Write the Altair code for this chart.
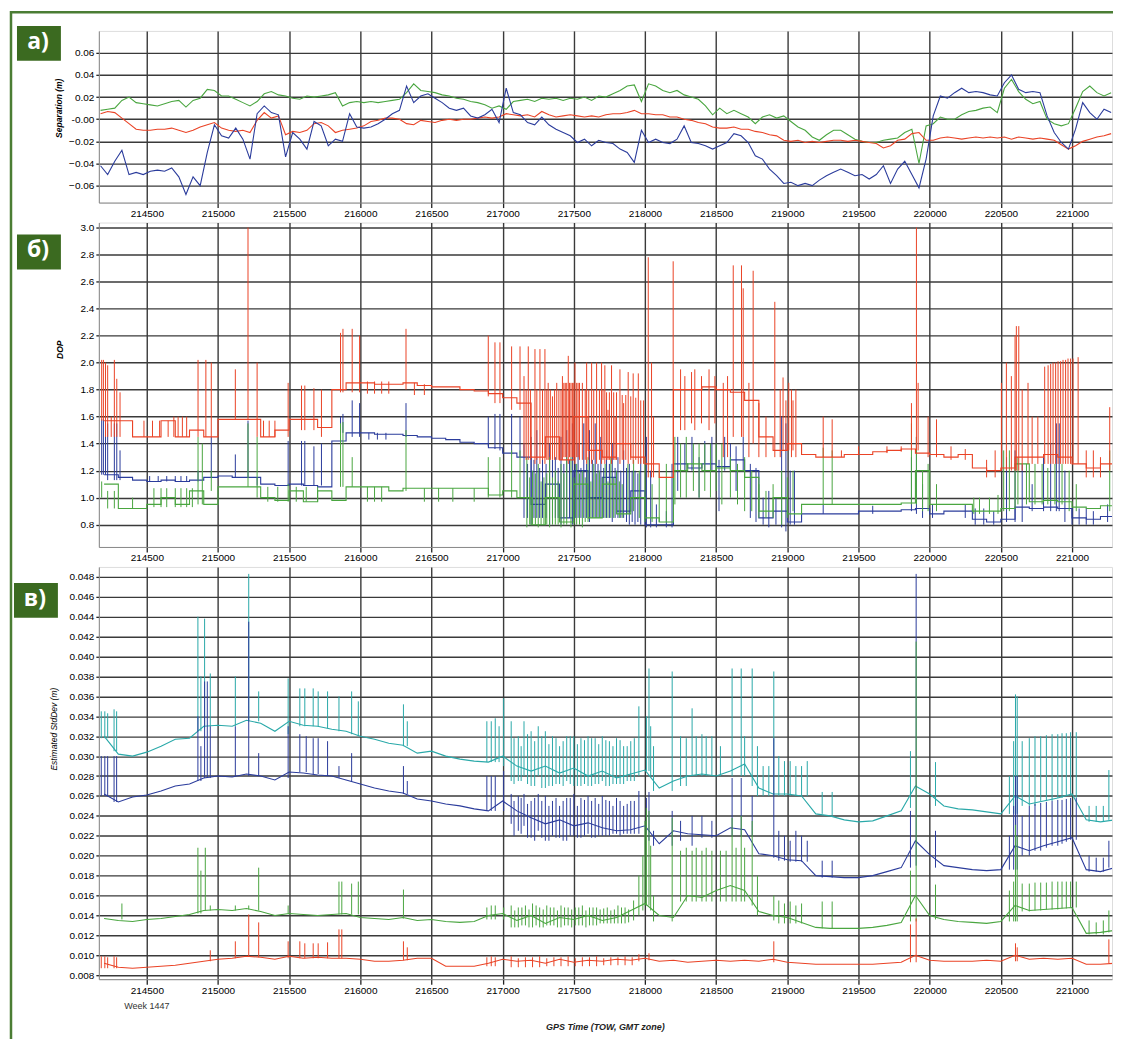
import altair as alt
import pandas as pd

# ---------------- common ----------------
X_DOMAIN = [214163, 221281]
X_TICKS = [214500, 215000, 215500, 216000, 216500, 217000, 217500,
           218000, 218500, 219000, 219500, 220000, 220500, 221000]

# ---------------- panel a: separation (m), 50 s sampling from 214175 ----------------
SEP_T0, SEP_DT = 214175, 50
SEP_BLUE = [
    -0.042, -0.050, -0.038, -0.028, -0.050, -0.048, -0.050, -0.047, -0.046, -0.047,
    -0.044, -0.052, -0.068, -0.052, -0.060, -0.030, -0.005, -0.015, -0.017, -0.008,
    -0.018, -0.036, 0.005, 0.012, 0.006, 0.004, -0.034, -0.012, -0.018, -0.027,
    -0.002, -0.006, -0.024, -0.018, -0.020, 0.005, -0.007, -0.008, -0.007, -0.004,
    0.000, 0.005, 0.008, 0.030, 0.015, 0.021, 0.023, 0.019, 0.015, 0.010,
    0.008, 0.010, 0.003, 0.001, 0.004, 0.009, -0.003, 0.028, 0.006, 0.004,
    -0.003, -0.005, 0.002, -0.005, -0.009, -0.012, -0.015, -0.021, -0.018, -0.024,
    -0.019, -0.021, -0.022, -0.027, -0.030, -0.039, -0.010, -0.021, -0.018, -0.021,
    -0.022, -0.018, -0.006, -0.021, -0.022, -0.024, -0.027, -0.024, -0.021, -0.013,
    -0.015, -0.021, -0.033, -0.036, -0.045, -0.051, -0.058, -0.057, -0.060, -0.058,
    -0.060, -0.055, -0.051, -0.048, -0.045, -0.048, -0.051, -0.050, -0.054, -0.050,
    -0.042, -0.058, -0.045, -0.038, -0.050, -0.062, -0.036, 0.003, 0.021, 0.019,
    0.024, 0.028, 0.024, 0.025, 0.024, 0.022, 0.021, 0.033, 0.040, 0.027,
    0.024, 0.025, 0.024, 0.003, -0.012, -0.021, -0.027, -0.009, 0.015, 0.006,
    0.000, 0.009, 0.006]
SEP_GREEN = [
    0.008, 0.009, 0.010, 0.017, 0.020, 0.015, 0.014, 0.013, 0.012, 0.014,
    0.016, 0.017, 0.011, 0.017, 0.019, 0.027, 0.026, 0.021, 0.021, 0.018,
    0.015, 0.012, 0.016, 0.023, 0.025, 0.022, 0.021, 0.019, 0.018, 0.021,
    0.020, 0.021, 0.022, 0.024, 0.012, 0.015, 0.016, 0.015, 0.016, 0.015,
    0.016, 0.017, 0.018, 0.024, 0.032, 0.026, 0.025, 0.024, 0.022, 0.021,
    0.019, 0.018, 0.016, 0.015, 0.013, 0.010, 0.012, 0.009, 0.016, 0.017,
    0.018, 0.016, 0.019, 0.018, 0.019, 0.017, 0.019, 0.018, 0.020, 0.017,
    0.021, 0.020, 0.023, 0.026, 0.030, 0.031, 0.016, 0.032, 0.030, 0.026,
    0.024, 0.026, 0.022, 0.020, 0.018, 0.012, 0.004, 0.010, 0.005, 0.008,
    0.005, 0.002, -0.004, 0.002, 0.004, 0.001, 0.003, -0.002, -0.007, -0.010,
    -0.016, -0.019, -0.014, -0.010, -0.010, -0.014, -0.018, -0.020, -0.021, -0.021,
    -0.019, -0.018, -0.017, -0.012, -0.009, -0.040, -0.006, -0.004, 0.002, 0.000,
    0.000, 0.004, 0.007, 0.008, 0.010, 0.011, 0.006, 0.028, 0.036, 0.025,
    0.018, 0.014, 0.016, 0.000, -0.004, -0.006, -0.004, 0.010, 0.025, 0.030,
    0.024, 0.021, 0.024]
SEP_RED = [
    0.005, 0.007, 0.006, 0.001, -0.004, -0.009, -0.010, -0.010, -0.009, -0.009,
    -0.008, -0.010, -0.012, -0.010, -0.007, -0.005, -0.003, -0.008, -0.010, -0.011,
    -0.010, -0.012, -0.001, 0.006, 0.001, 0.003, -0.014, -0.011, -0.012, -0.010,
    -0.004, -0.003, -0.006, -0.012, -0.010, -0.009, -0.008, -0.006, -0.002, -0.001,
    0.001, 0.001, 0.000, -0.004, -0.005, -0.001, -0.002, -0.003, -0.001, 0.000,
    -0.001, 0.000, 0.000, 0.001, 0.002, 0.001, 0.002, 0.005, 0.004, 0.003,
    0.004, 0.002, 0.007, 0.004, 0.002, 0.003, 0.004, 0.003, 0.002, 0.003,
    0.002, 0.004, 0.005, 0.005, 0.006, 0.008, 0.005, 0.005, 0.004, 0.004,
    0.002, 0.002, 0.000, -0.001, -0.003, -0.004, -0.007, -0.008, -0.008, -0.007,
    -0.009, -0.009, -0.011, -0.012, -0.014, -0.015, -0.019, -0.020, -0.019, -0.021,
    -0.020, -0.021, -0.020, -0.019, -0.019, -0.020, -0.019, -0.020, -0.021, -0.022,
    -0.026, -0.024, -0.019, -0.018, -0.013, -0.012, -0.019, -0.019, -0.017, -0.016,
    -0.017, -0.018, -0.017, -0.016, -0.017, -0.016, -0.017, -0.016, -0.018, -0.016,
    -0.017, -0.018, -0.017, -0.018, -0.019, -0.023, -0.027, -0.024, -0.020, -0.018,
    -0.016, -0.015, -0.013]

# ---------------- panel b: DOP, 100 s steps from 214200 ----------------
GRID_T0, GRID_DT = 214200, 100
DOP_RED = [
    1.57, 1.57, 1.45, 1.45, 1.57, 1.45, 1.50, 1.45, 1.58, 1.58,
    1.58, 1.45, 1.50, 1.58, 1.58, 1.52, 1.80, 1.85, 1.85, 1.84,
    1.84, 1.85, 1.83, 1.82, 1.82, 1.80, 1.79, 1.77, 1.74, 1.70,
    1.30, 1.45, 1.28, 1.60, 1.35, 1.30, 1.40, 1.30, 1.25, 1.15,
    1.80, 1.80, 1.82, 1.80, 1.78, 1.72, 1.45, 1.35, 1.40, 1.32,
    1.30, 1.30, 1.32, 1.32, 1.34, 1.35, 1.36, 1.33, 1.32, 1.30,
    1.32, 1.22, 1.20, 1.22, 1.30, 1.30, 1.32, 1.30, 1.25, 1.22,
    1.25, 1.25]
DOP_BLUE = [
    1.17, 1.15, 1.13, 1.12, 1.13, 1.12, 1.13, 1.15, 1.16, 1.15,
    1.15, 1.10, 1.09, 1.10, 1.09, 1.08, 1.42, 1.48, 1.48, 1.47,
    1.47, 1.46, 1.45, 1.44, 1.43, 1.41, 1.40, 1.37, 1.33, 1.30,
    0.95, 1.10, 0.85, 1.20, 1.00, 1.15, 0.90, 1.05, 0.80, 0.80,
    1.25, 1.22, 1.25, 1.23, 1.28, 1.20, 0.85, 0.90, 0.82, 0.88,
    0.88, 0.88, 0.88, 0.90, 0.90, 0.90, 0.91, 0.92, 0.88, 0.90,
    0.90, 0.84, 0.82, 0.84, 0.93, 0.92, 0.93, 0.92, 0.85, 0.84,
    0.86, 0.86]
DOP_GREEN = [
    1.10, 0.92, 0.92, 0.95, 1.00, 0.95, 1.05, 0.95, 1.08, 1.08,
    1.08, 1.00, 0.98, 1.05, 0.97, 1.05, 0.98, 1.08, 1.08, 1.08,
    1.05, 1.07, 1.07, 1.07, 1.07, 1.07, 1.07, 1.02, 1.05, 1.00,
    0.80, 1.00, 0.82, 1.10, 0.85, 1.10, 0.88, 1.00, 0.85, 0.82,
    1.20, 1.25, 1.20, 1.22, 1.20, 1.15, 0.90, 1.00, 0.88, 0.95,
    0.95, 0.95, 0.95, 0.95, 0.95, 0.95, 0.96, 1.20, 0.95, 0.95,
    0.95, 0.90, 0.90, 0.92, 1.25, 0.97, 0.98, 0.97, 0.93, 0.92,
    0.94, 0.94]

# spikes: (time, low, high)
DOP_RED_SPIKES = [
    (214183, 1.57, 2.02), (214195, 1.57, 2.02), (214210, 1.45, 2.00), (214225, 1.45, 1.98),
    (214250, 1.45, 1.60), (214272, 1.45, 2.02), (214289, 1.45, 1.88), (214312, 1.45, 1.78),
    (214480, 1.45, 1.57), (214540, 1.45, 1.57), (214590, 1.45, 1.57), (214650, 1.45, 1.57),
    (214690, 1.45, 1.60), (214720, 1.45, 1.60), (214750, 1.45, 1.60), (214780, 1.45, 1.60),
    (214860, 1.45, 2.02), (214915, 1.45, 2.02), (214953, 1.45, 2.00), (215122, 1.58, 1.95),
    (215211, 1.58, 3.00), (215275, 1.45, 2.00), (215320, 1.45, 1.57), (215360, 1.45, 1.57),
    (215400, 1.45, 1.57), (215493, 1.45, 1.85), (215587, 1.50, 1.83), (215610, 1.50, 1.83),
    (215674, 1.50, 1.81), (215727, 1.45, 1.80), (215861, 1.78, 2.22), (215878, 1.78, 2.25),
    (215943, 1.78, 2.25), (215995, 1.78, 2.20), (216050, 1.77, 1.86), (216100, 1.77, 1.86),
    (216150, 1.77, 1.86), (216200, 1.77, 1.86), (216321, 1.80, 2.25), (216380, 1.76, 1.85),
    (216450, 1.76, 1.84),
    (216899, 1.75, 2.20), (216946, 1.70, 2.15), (216981, 1.70, 2.15), (217063, 1.65, 2.12),
    (217122, 1.65, 2.12), (217150, 1.30, 1.90), (217180, 1.28, 2.12), (217227, 1.25, 2.10),
    (217262, 1.25, 2.10), (217297, 1.25, 2.10), (217320, 1.28, 1.85), (217350, 1.28, 1.75),
    (217380, 1.28, 1.85), (217420, 1.28, 1.90), (217430, 1.30, 1.85), (217440, 1.30, 1.85),
    (217450, 1.30, 1.85), (217461, 1.25, 2.05), (217470, 1.30, 1.85), (217480, 1.30, 1.85),
    (217490, 1.30, 1.85), (217500, 1.30, 1.85), (217508, 1.25, 2.00), (217520, 1.30, 1.85),
    (217530, 1.30, 1.85), (217540, 1.28, 1.85), (217560, 1.28, 1.85), (217590, 1.25, 2.00),
    (217625, 1.25, 2.00), (217660, 1.25, 2.00), (217695, 1.25, 2.00), (217718, 1.25, 1.98),
    (217740, 1.28, 1.65), (217765, 1.25, 1.98), (217790, 1.28, 1.60), (217824, 1.25, 1.95),
    (217850, 1.28, 1.70), (217882, 1.25, 1.93), (217917, 1.25, 1.92), (217953, 1.25, 1.92),
    (217165, 1.28, 1.80), (217195, 1.28, 1.80), (217240, 1.28, 1.80), (217280, 1.28, 1.80),
    (217310, 1.28, 1.80), (217335, 1.28, 1.80), (217365, 1.28, 1.80), (217395, 1.28, 1.80),
    (217410, 1.28, 1.80), (217580, 1.28, 1.80), (217605, 1.28, 1.80), (217640, 1.28, 1.80),
    (217680, 1.28, 1.80), (217705, 1.28, 1.80), (217730, 1.28, 1.78), (217750, 1.28, 1.78),
    (217780, 1.28, 1.78), (217800, 1.28, 1.78), (217840, 1.28, 1.76), (217865, 1.28, 1.76),
    (217900, 1.28, 1.75), (217935, 1.28, 1.74), (217970, 1.25, 1.72), (217990, 1.25, 1.72),
    (218023, 1.15, 2.78), (218046, 1.15, 2.00), (218060, 1.15, 1.60), (218198, 1.15, 2.75),
    (218250, 1.50, 1.95), (218280, 1.50, 1.90), (218327, 1.55, 1.93), (218350, 1.50, 1.95),
    (218397, 1.55, 1.90), (218450, 1.50, 1.95), (218491, 1.55, 1.90), (218550, 1.30, 1.85),
    (218580, 1.30, 1.90), (218620, 1.45, 2.72), (218678, 1.45, 2.72), (218690, 1.45, 2.55),
    (218730, 1.30, 1.85), (218760, 1.40, 2.68), (218800, 1.30, 1.70), (218850, 1.30, 1.60),
    (218912, 1.30, 2.45), (218950, 1.30, 1.80), (218970, 1.35, 1.89), (218990, 1.35, 1.72),
    (219010, 1.35, 1.85), (219029, 1.30, 1.80), (219040, 1.35, 1.72), (219060, 1.30, 1.80),
    (219252, 1.30, 1.60), (219315, 1.30, 1.58), (219380, 1.30, 1.35), (219500, 1.32, 1.38),
    (219700, 1.33, 1.38), (219800, 1.34, 1.38), (219872, 1.35, 1.70), (219907, 1.35, 3.00),
    (219919, 1.35, 1.85), (219989, 1.30, 1.60), (220048, 1.30, 1.58), (220150, 1.28, 1.38),
    (220250, 1.28, 1.36), (220400, 1.15, 1.28), (220460, 1.15, 1.35), (220504, 1.20, 1.85),
    (220539, 1.20, 2.00), (220574, 1.20, 1.90), (220600, 1.20, 2.20), (220609, 1.20, 2.27),
    (220626, 1.20, 2.27), (220650, 1.20, 1.80), (220691, 1.25, 1.85), (220720, 1.25, 1.60),
    (220760, 1.25, 1.60), (220808, 1.25, 1.97), (220832, 1.25, 1.98), (220850, 1.25, 1.99),
    (220867, 1.25, 2.00), (220885, 1.25, 2.00), (220902, 1.25, 2.01), (220920, 1.25, 2.01),
    (220937, 1.25, 2.02), (220955, 1.25, 2.02), (220972, 1.25, 2.03), (220990, 1.25, 2.03),
    (221007, 1.25, 2.03), (221043, 1.25, 2.04), (221100, 1.15, 1.35), (221150, 1.15, 1.35),
    (221200, 1.15, 1.30), (221265, 1.20, 1.67)]
DOP_BLUE_SPIKES = [
    (214183, 1.17, 1.58), (214195, 1.17, 1.58), (214210, 1.17, 1.50), (214225, 1.13, 1.55),
    (214272, 1.13, 1.55), (214289, 1.13, 1.55), (214312, 1.13, 1.35), (214860, 1.12, 1.20),
    (214520, 1.12, 1.16), (214580, 1.12, 1.16), (214640, 1.12, 1.16), (214700, 1.12, 1.16),
    (214740, 1.12, 1.16), (214780, 1.12, 1.16),
    (214953, 1.15, 1.45), (215122, 1.15, 1.32), (215211, 1.15, 1.57), (215275, 1.09, 1.15),
    (215493, 1.09, 1.42), (215587, 1.09, 1.42), (215610, 1.09, 1.42), (215674, 1.09, 1.38),
    (215727, 1.09, 1.40), (215861, 1.48, 1.60), (215878, 1.48, 1.62), (215943, 1.45, 1.72),
    (215995, 1.45, 1.70), (216060, 1.43, 1.48), (216120, 1.43, 1.48), (216180, 1.43, 1.48),
    (216321, 1.45, 1.70), (216899, 1.38, 1.60), (216946, 1.36, 1.62),
    (216981, 1.35, 1.62), (217063, 1.32, 1.62), (217122, 1.30, 1.60), (217150, 0.85, 1.40),
    (217200, 0.80, 1.45), (217240, 0.85, 1.50), (217280, 0.85, 1.35), (217330, 0.80, 1.40),
    (217370, 0.85, 1.30), (217410, 0.80, 1.45), (217450, 0.85, 1.50), (217490, 0.80, 1.55),
    (217530, 0.85, 1.40), (217570, 0.85, 1.55), (217610, 0.82, 1.50), (217650, 0.85, 1.55),
    (217690, 0.85, 1.45), (217730, 0.85, 1.35), (217770, 0.82, 1.40), (217810, 0.85, 1.30),
    (217850, 0.85, 1.35), (217890, 0.80, 1.25), (217930, 0.80, 1.20), (217970, 0.80, 1.30),
    (217175, 0.85, 1.25), (217220, 0.85, 1.28), (217260, 0.85, 1.22), (217305, 0.85, 1.25),
    (217350, 0.85, 1.28), (217390, 0.85, 1.22), (217430, 0.85, 1.25), (217470, 0.85, 1.28),
    (217510, 0.85, 1.25), (217550, 0.85, 1.22), (217590, 0.85, 1.25), (217630, 0.85, 1.28),
    (217670, 0.85, 1.25), (217710, 0.85, 1.22), (217750, 0.85, 1.25), (217790, 0.85, 1.22),
    (217830, 0.85, 1.20), (217870, 0.82, 1.22), (217910, 0.82, 1.20), (217950, 0.82, 1.18),
    (218010, 0.78, 1.45), (218040, 0.78, 1.20), (218080, 0.78, 0.95), (218150, 0.78, 0.90),
    (218190, 0.78, 1.25), (218230, 1.05, 1.45), (218280, 1.20, 1.40), (218330, 1.20, 1.45),
    (218380, 1.00, 1.30), (218420, 1.20, 1.42), (218470, 1.20, 1.45), (218520, 0.90, 1.28),
    (218560, 1.20, 1.45), (218600, 1.20, 1.40), (218640, 1.05, 1.38), (218690, 1.20, 1.45),
    (218740, 0.85, 1.25), (218780, 0.82, 1.22), (218830, 0.80, 1.00), (218870, 0.78, 1.05),
    (218920, 0.80, 1.00), (218960, 0.78, 1.60), (218990, 0.75, 1.55), (219020, 0.80, 1.20),
    (219050, 0.80, 1.20), (219252, 0.88, 0.95), (219600, 0.88, 0.94), (219872, 0.90, 1.30),
    (219907, 0.88, 1.45), (219950, 0.85, 1.10), (220020, 0.85, 0.95), (220250, 0.85, 0.95),
    (220320, 0.80, 0.92), (220380, 0.80, 0.92), (220450, 0.80, 0.90), (220540, 0.82, 1.30),
    (220600, 0.82, 1.35), (220650, 0.82, 1.25), (220720, 0.90, 1.10), (220800, 0.90, 1.30),
    (220850, 0.90, 1.40), (220890, 0.90, 1.55), (220910, 0.90, 1.55), (220950, 0.82, 1.20),
    (221000, 0.80, 0.92), (221050, 0.80, 0.92), (221100, 0.80, 0.92), (221150, 0.80, 0.90),
    (221250, 0.82, 0.95)]
DOP_GREEN_SPIKES = [
    (214183, 1.00, 1.12), (214225, 0.92, 1.05), (214272, 0.92, 1.05), (214400, 0.92, 1.00),
    (214550, 0.93, 1.07), (214600, 0.93, 1.07), (214640, 0.93, 1.07), (214700, 0.93, 1.07),
    (214740, 0.93, 1.07), (214780, 0.93, 1.07), (214820, 0.93, 1.07), (214860, 0.95, 1.45),
    (214890, 0.95, 1.40), (214953, 1.05, 1.20), (215211, 1.08, 1.55), (215275, 1.00, 1.45),
    (215350, 0.97, 1.08), (215420, 0.97, 1.08), (215493, 0.97, 1.10), (215550, 0.97, 1.08),
    (215620, 0.97, 1.08), (215700, 0.97, 1.08), (215861, 1.08, 1.55), (215878, 1.08, 1.56),
    (215943, 1.08, 1.30), (216050, 0.97, 1.08), (216100, 0.97, 1.08), (216150, 0.97, 1.08),
    (216321, 1.05, 1.50), (216450, 0.97, 1.07), (216550, 0.97, 1.07), (216650, 0.97, 1.07),
    (216800, 0.97, 1.07), (216899, 1.00, 1.30), (216981, 1.00, 1.30), (217063, 1.00, 1.35),
    (217122, 1.00, 1.35), (217170, 0.78, 1.30), (217210, 0.80, 1.20), (217250, 0.78, 1.25),
    (217290, 0.80, 1.15), (217330, 0.78, 1.30), (217370, 0.80, 1.20), (217410, 0.78, 1.25),
    (217450, 0.80, 1.30), (217480, 0.78, 1.30), (217520, 0.80, 1.25), (217560, 0.78, 1.20),
    (217600, 0.82, 1.30), (217640, 0.85, 1.25), (217680, 0.85, 1.20), (217720, 0.85, 1.25),
    (217760, 0.85, 1.30), (217800, 0.88, 1.20), (217840, 0.85, 1.10), (217880, 0.88, 1.25),
    (217920, 0.90, 1.28), (217960, 0.85, 1.20), (218000, 0.82, 1.30), (218050, 0.82, 1.10),
    (217190, 0.80, 1.15), (217230, 0.80, 1.18), (217270, 0.80, 1.12), (217310, 0.80, 1.18),
    (217350, 0.80, 1.15), (217390, 0.80, 1.12), (217430, 0.80, 1.18), (217500, 0.80, 1.15),
    (217540, 0.80, 1.18), (217580, 0.82, 1.15), (217620, 0.85, 1.12), (217660, 0.85, 1.18),
    (217700, 0.85, 1.15), (217740, 0.85, 1.12), (217780, 0.85, 1.15), (217820, 0.85, 1.12),
    (218100, 0.82, 1.20), (218150, 0.82, 1.25), (218210, 0.95, 1.45), (218250, 1.00, 1.40),
    (218290, 1.00, 1.45), (218340, 1.05, 1.40), (218380, 1.00, 1.40), (218420, 1.05, 1.40),
    (218460, 1.00, 1.40), (218500, 1.05, 1.40), (218540, 0.95, 1.40), (218600, 1.00, 1.30),
    (218650, 0.95, 1.25), (218700, 0.90, 1.30), (218750, 0.90, 1.20), (218800, 0.85, 1.10),
    (218850, 0.85, 1.05), (218900, 0.85, 1.10), (218960, 0.80, 1.20), (219000, 0.85, 1.15),
    (219040, 0.90, 1.20), (219252, 0.95, 1.37), (219315, 0.95, 1.35), (219872, 0.95, 1.55),
    (219907, 0.95, 1.45), (219950, 0.90, 1.20), (219989, 0.90, 1.25), (220048, 0.90, 1.10),
    (220310, 0.88, 1.00), (220350, 0.88, 1.00), (220420, 0.88, 1.00), (220480, 0.88, 1.02),
    (220520, 0.90, 1.35), (220560, 0.90, 1.35), (220620, 0.95, 1.30), (220680, 0.95, 1.25),
    (220740, 0.95, 1.25), (220790, 0.95, 1.25), (220830, 0.95, 1.22), (220880, 0.95, 1.25),
    (220930, 0.95, 1.25), (220980, 0.90, 1.20), (221030, 0.90, 1.10), (221265, 0.90, 1.35)]

# ---------------- panel c: estimated std dev (m), 100 s steps from 214200 ----------------
SD_CYAN = [
    0.0320, 0.0302, 0.0300, 0.0304, 0.0310, 0.0317, 0.0318, 0.0330, 0.0331, 0.0330,
    0.0336, 0.0333, 0.0325, 0.0335, 0.0331, 0.0330, 0.0327, 0.0325, 0.0320, 0.0317,
    0.0313, 0.0311, 0.0303, 0.0305, 0.0300, 0.0297, 0.0295, 0.0294, 0.0300, 0.0290,
    0.0285, 0.0290, 0.0283, 0.0288, 0.0280, 0.0285, 0.0278, 0.0282, 0.0286, 0.0268,
    0.0275, 0.0280, 0.0282, 0.0280, 0.0285, 0.0292, 0.0268, 0.0262, 0.0262, 0.0260,
    0.0242, 0.0240, 0.0236, 0.0234, 0.0235, 0.0240, 0.0245, 0.0270, 0.0262, 0.0250,
    0.0247, 0.0246, 0.0244, 0.0242, 0.0260, 0.0252, 0.0255, 0.0258, 0.0262, 0.0236,
    0.0234, 0.0236]
SD_BLUE = [
    0.0262, 0.0254, 0.0259, 0.0261, 0.0265, 0.0270, 0.0272, 0.0278, 0.0280, 0.0279,
    0.0282, 0.0280, 0.0276, 0.0284, 0.0283, 0.0281, 0.0280, 0.0276, 0.0272, 0.0268,
    0.0265, 0.0263, 0.0257, 0.0255, 0.0252, 0.0250, 0.0247, 0.0245, 0.0255, 0.0245,
    0.0238, 0.0232, 0.0236, 0.0230, 0.0233, 0.0228, 0.0225, 0.0226, 0.0230, 0.0212,
    0.0225, 0.0222, 0.0221, 0.0220, 0.0228, 0.0226, 0.0202, 0.0200, 0.0196, 0.0195,
    0.0180, 0.0179, 0.0178, 0.0178, 0.0180, 0.0184, 0.0188, 0.0215, 0.0201, 0.0190,
    0.0188, 0.0186, 0.0185, 0.0186, 0.0210, 0.0205, 0.0210, 0.0214, 0.0218, 0.0186,
    0.0184, 0.0188]
SD_GREEN = [
    0.0137, 0.0135, 0.0134, 0.0136, 0.0137, 0.0139, 0.0141, 0.0145, 0.0146, 0.0145,
    0.0147, 0.0144, 0.0140, 0.0142, 0.0141, 0.0140, 0.0141, 0.0142, 0.0138, 0.0137,
    0.0136, 0.0138, 0.0135, 0.0136, 0.0134, 0.0133, 0.0134, 0.0140, 0.0142, 0.0135,
    0.0140, 0.0132, 0.0138, 0.0136, 0.0140, 0.0135, 0.0138, 0.0145, 0.0152, 0.0140,
    0.0138, 0.0160, 0.0158, 0.0165, 0.0170, 0.0165, 0.0144, 0.0140, 0.0138, 0.0133,
    0.0128, 0.0127, 0.0127, 0.0127, 0.0128, 0.0130, 0.0133, 0.0160, 0.0140, 0.0136,
    0.0134, 0.0133, 0.0132, 0.0134, 0.0150, 0.0145, 0.0146, 0.0147, 0.0148, 0.0122,
    0.0123, 0.0125]
SD_RED = [
    0.0092, 0.0088, 0.0087, 0.0088, 0.0089, 0.0090, 0.0092, 0.0094, 0.0096, 0.0097,
    0.0099, 0.0098, 0.0096, 0.0099, 0.0097, 0.0098, 0.0097, 0.0097, 0.0096, 0.0094,
    0.0094, 0.0095, 0.0097, 0.0097, 0.0089, 0.0089, 0.0089, 0.0092, 0.0096, 0.0094,
    0.0095, 0.0092, 0.0096, 0.0093, 0.0095, 0.0094, 0.0096, 0.0095, 0.0097, 0.0094,
    0.0095, 0.0093, 0.0094, 0.0095, 0.0094, 0.0095, 0.0094, 0.0096, 0.0093, 0.0092,
    0.0091, 0.0091, 0.0091, 0.0091, 0.0091, 0.0092, 0.0093, 0.0100, 0.0095, 0.0094,
    0.0094, 0.0094, 0.0095, 0.0094, 0.0100, 0.0096, 0.0097, 0.0096, 0.0097, 0.0091,
    0.0091, 0.0092]

SD_CYAN_SPIKES = [
    (214180, 0.0318, 0.0345), (214205, 0.0318, 0.0345), (214225, 0.0318, 0.0343),
    (214270, 0.0305, 0.0347), (214288, 0.0305, 0.0345), (214859, 0.0325, 0.0440),
    (214880, 0.0325, 0.0380), (214906, 0.0330, 0.0438), (214946, 0.0330, 0.0383),
    (215122, 0.0330, 0.0380), (215216, 0.0335, 0.0483), (215286, 0.0335, 0.0365),
    (215493, 0.0322, 0.0378), (215575, 0.0330, 0.0368), (215610, 0.0330, 0.0368),
    (215669, 0.0330, 0.0368), (215704, 0.0330, 0.0365), (215770, 0.0328, 0.0365),
    (215850, 0.0325, 0.0360), (215939, 0.0322, 0.0365), (215986, 0.0320, 0.0355),
    (216303, 0.0310, 0.0352), (216330, 0.0310, 0.0335), (216889, 0.0294, 0.0335),
    (216920, 0.0294, 0.0335), (216948, 0.0294, 0.0338), (216975, 0.0294, 0.0330),
    (217007, 0.0290, 0.0358), (217060, 0.0275, 0.0335), (217110, 0.0275, 0.0320),
    (217150, 0.0280, 0.0335), (217200, 0.0270, 0.0325), (217250, 0.0280, 0.0330),
    (217300, 0.0268, 0.0325), (217350, 0.0270, 0.0320), (217400, 0.0272, 0.0310),
    (217450, 0.0275, 0.0320), (217500, 0.0270, 0.0320), (217550, 0.0270, 0.0318),
    (217600, 0.0270, 0.0320), (217650, 0.0272, 0.0318), (217700, 0.0275, 0.0320),
    (217750, 0.0270, 0.0315), (217800, 0.0272, 0.0318), (217850, 0.0272, 0.0310),
    (217900, 0.0275, 0.0315), (217957, 0.0280, 0.0350), (218028, 0.0285, 0.0388),
    (218010, 0.0285, 0.0340), (218040, 0.0280, 0.0330),
    (217080, 0.0272, 0.0318), (217130, 0.0275, 0.0310), (217175, 0.0272, 0.0322),
    (217225, 0.0270, 0.0315), (217275, 0.0268, 0.0320), (217325, 0.0270, 0.0312),
    (217375, 0.0272, 0.0318), (217425, 0.0270, 0.0315), (217475, 0.0272, 0.0320),
    (217525, 0.0270, 0.0312), (217575, 0.0272, 0.0316), (217625, 0.0270, 0.0318),
    (217675, 0.0272, 0.0312), (217725, 0.0270, 0.0316), (217775, 0.0272, 0.0310),
    (217825, 0.0272, 0.0316), (217875, 0.0275, 0.0310), (217925, 0.0275, 0.0318),
    (218060, 0.0265, 0.0310), (218191, 0.0265, 0.0385), (218250, 0.0270, 0.0320),
    (218290, 0.0270, 0.0318), (218331, 0.0280, 0.0348), (218360, 0.0280, 0.0320),
    (218400, 0.0280, 0.0322), (218430, 0.0280, 0.0320), (218470, 0.0280, 0.0320),
    (218530, 0.0280, 0.0310), (218612, 0.0280, 0.0388), (218676, 0.0280, 0.0388),
    (218700, 0.0280, 0.0320), (218753, 0.0270, 0.0388), (218790, 0.0260, 0.0310),
    (218830, 0.0260, 0.0290), (218870, 0.0260, 0.0290), (218905, 0.0260, 0.0385),
    (218940, 0.0260, 0.0300), (218980, 0.0260, 0.0295), (219020, 0.0260, 0.0295),
    (219060, 0.0260, 0.0290), (219100, 0.0260, 0.0290), (219140, 0.0260, 0.0295),
    (219245, 0.0242, 0.0264), (219315, 0.0240, 0.0264), (219865, 0.0248, 0.0305),
    (220041, 0.0250, 0.0294), (220560, 0.0242, 0.0280), (220590, 0.0242, 0.0315),
    (220603, 0.0242, 0.0362), (220615, 0.0242, 0.0360), (220650, 0.0250, 0.0315),
    (220700, 0.0250, 0.0318), (220740, 0.0250, 0.0320), (220780, 0.0255, 0.0320),
    (220820, 0.0255, 0.0321), (220860, 0.0255, 0.0322), (220900, 0.0258, 0.0322),
    (220930, 0.0258, 0.0323), (220960, 0.0260, 0.0323), (220990, 0.0260, 0.0324),
    (221030, 0.0258, 0.0324), (221120, 0.0234, 0.0250), (221170, 0.0234, 0.0250),
    (221220, 0.0234, 0.0250), (221259, 0.0236, 0.0286)]
SD_BLUE_SPIKES = [
    (214180, 0.0260, 0.0300), (214205, 0.0260, 0.0300), (214225, 0.0260, 0.0300),
    (214270, 0.0254, 0.0300), (214288, 0.0254, 0.0300), (214859, 0.0275, 0.0340),
    (214880, 0.0275, 0.0310), (214906, 0.0278, 0.0375), (214925, 0.0278, 0.0375),
    (214946, 0.0278, 0.0330), (215122, 0.0280, 0.0330), (215216, 0.0280, 0.0435),
    (215286, 0.0280, 0.0303), (215493, 0.0278, 0.0330), (215575, 0.0284, 0.0322),
    (215620, 0.0284, 0.0320), (215669, 0.0282, 0.0318), (215704, 0.0282, 0.0318),
    (215770, 0.0280, 0.0315), (215850, 0.0278, 0.0290), (215939, 0.0274, 0.0303),
    (216303, 0.0262, 0.0290), (216330, 0.0262, 0.0275), (216889, 0.0245, 0.0280),
    (216920, 0.0245, 0.0280), (216948, 0.0245, 0.0280), (217007, 0.0245, 0.0285),
    (217060, 0.0232, 0.0262), (217110, 0.0225, 0.0260), (217150, 0.0230, 0.0262),
    (217200, 0.0218, 0.0255), (217250, 0.0225, 0.0262), (217300, 0.0215, 0.0260),
    (217350, 0.0220, 0.0255), (217400, 0.0218, 0.0250), (217450, 0.0215, 0.0258),
    (217500, 0.0220, 0.0262), (217550, 0.0218, 0.0258), (217600, 0.0222, 0.0260),
    (217650, 0.0218, 0.0258), (217700, 0.0220, 0.0260), (217750, 0.0220, 0.0255),
    (217800, 0.0222, 0.0258), (217850, 0.0222, 0.0250), (217900, 0.0222, 0.0255),
    (217080, 0.0220, 0.0255), (217130, 0.0222, 0.0258), (217175, 0.0218, 0.0252),
    (217225, 0.0215, 0.0258), (217275, 0.0218, 0.0255), (217325, 0.0215, 0.0250),
    (217375, 0.0218, 0.0258), (217425, 0.0215, 0.0255), (217475, 0.0220, 0.0258),
    (217525, 0.0218, 0.0250), (217575, 0.0220, 0.0256), (217625, 0.0218, 0.0255),
    (217675, 0.0220, 0.0252), (217725, 0.0220, 0.0256), (217775, 0.0222, 0.0250),
    (217825, 0.0220, 0.0255), (217875, 0.0222, 0.0252), (217925, 0.0222, 0.0255),
    (217957, 0.0222, 0.0265), (218028, 0.0215, 0.0264), (218010, 0.0222, 0.0258),
    (218060, 0.0210, 0.0225),
    (218191, 0.0210, 0.0245), (218250, 0.0215, 0.0235), (218331, 0.0210, 0.0240),
    (218400, 0.0218, 0.0240), (218470, 0.0218, 0.0235), (218612, 0.0220, 0.0278),
    (218676, 0.0220, 0.0278), (218753, 0.0220, 0.0260), (218905, 0.0198, 0.0318),
    (218940, 0.0195, 0.0225), (218980, 0.0195, 0.0220), (219020, 0.0194, 0.0215),
    (219060, 0.0194, 0.0225), (219100, 0.0194, 0.0220), (219140, 0.0194, 0.0215),
    (219245, 0.0178, 0.0195), (219315, 0.0178, 0.0195), (219865, 0.0188, 0.0245),
    (219905, 0.0190, 0.0483), (220041, 0.0188, 0.0225), (220560, 0.0186, 0.0220),
    (220590, 0.0186, 0.0250), (220603, 0.0186, 0.0280), (220615, 0.0186, 0.0280),
    (220650, 0.0200, 0.0240), (220700, 0.0200, 0.0250), (220740, 0.0205, 0.0252),
    (220780, 0.0205, 0.0253), (220820, 0.0208, 0.0254), (220860, 0.0210, 0.0255),
    (220900, 0.0210, 0.0256), (220930, 0.0212, 0.0256), (220960, 0.0214, 0.0257),
    (220990, 0.0216, 0.0258), (221030, 0.0216, 0.0258), (221120, 0.0184, 0.0200),
    (221170, 0.0184, 0.0198), (221220, 0.0184, 0.0198), (221259, 0.0188, 0.0215)]
SD_GREEN_SPIKES = [
    (214325, 0.0136, 0.0152), (214859, 0.0142, 0.0208), (214880, 0.0142, 0.0185),
    (214911, 0.0145, 0.0208), (214946, 0.0145, 0.0150), (215122, 0.0145, 0.0150),
    (215216, 0.0146, 0.0150), (215286, 0.0145, 0.0188), (215493, 0.0142, 0.0150),
    (215850, 0.0141, 0.0174), (215870, 0.0141, 0.0174), (215939, 0.0141, 0.0172),
    (215986, 0.0141, 0.0174), (216303, 0.0137, 0.0166), (216889, 0.0136, 0.0148),
    (216920, 0.0136, 0.0150), (216948, 0.0136, 0.0150), (217007, 0.0136, 0.0148),
    (217060, 0.0128, 0.0150), (217110, 0.0128, 0.0148), (217160, 0.0130, 0.0150),
    (217210, 0.0128, 0.0152), (217260, 0.0128, 0.0148), (217310, 0.0130, 0.0150),
    (217360, 0.0130, 0.0148), (217410, 0.0128, 0.0150), (217460, 0.0130, 0.0148),
    (217510, 0.0130, 0.0148), (217560, 0.0130, 0.0150), (217610, 0.0130, 0.0148),
    (217660, 0.0130, 0.0148), (217710, 0.0132, 0.0147), (217760, 0.0132, 0.0145),
    (217810, 0.0132, 0.0150), (217860, 0.0132, 0.0148), (217920, 0.0135, 0.0155),
    (217085, 0.0128, 0.0145), (217135, 0.0130, 0.0148), (217185, 0.0128, 0.0146),
    (217235, 0.0130, 0.0150), (217285, 0.0128, 0.0146), (217335, 0.0130, 0.0148),
    (217385, 0.0128, 0.0145), (217435, 0.0130, 0.0148), (217485, 0.0128, 0.0146),
    (217535, 0.0130, 0.0148), (217585, 0.0128, 0.0145), (217635, 0.0130, 0.0148),
    (217685, 0.0132, 0.0146), (217735, 0.0132, 0.0148), (217785, 0.0132, 0.0146),
    (217835, 0.0132, 0.0148), (217885, 0.0133, 0.0146),
    (217957, 0.0140, 0.0180), (217985, 0.0145, 0.0200), (218000, 0.0150, 0.0235),
    (218010, 0.0150, 0.0248), (218028, 0.0150, 0.0245), (218040, 0.0145, 0.0210),
    (218060, 0.0134, 0.0160), (218191, 0.0134, 0.0238), (218250, 0.0154, 0.0205),
    (218290, 0.0154, 0.0208), (218331, 0.0154, 0.0205), (218360, 0.0154, 0.0208),
    (218400, 0.0154, 0.0205), (218430, 0.0154, 0.0208), (218470, 0.0154, 0.0205),
    (218530, 0.0154, 0.0205), (218570, 0.0154, 0.0205), (218612, 0.0154, 0.0238),
    (218640, 0.0154, 0.0208), (218676, 0.0154, 0.0240), (218700, 0.0154, 0.0208),
    (218753, 0.0150, 0.0235), (218790, 0.0140, 0.0180), (218905, 0.0135, 0.0160),
    (218940, 0.0132, 0.0155), (218980, 0.0132, 0.0152), (219020, 0.0132, 0.0154),
    (219060, 0.0132, 0.0150), (219100, 0.0132, 0.0152), (219245, 0.0127, 0.0154),
    (219315, 0.0127, 0.0154), (219865, 0.0134, 0.0185), (219905, 0.0134, 0.0415),
    (220041, 0.0136, 0.0171), (220560, 0.0134, 0.0165), (220590, 0.0134, 0.0174),
    (220603, 0.0134, 0.0231), (220615, 0.0134, 0.0220), (220650, 0.0144, 0.0172),
    (220700, 0.0144, 0.0172), (220740, 0.0145, 0.0173), (220780, 0.0145, 0.0173),
    (220820, 0.0146, 0.0173), (220860, 0.0146, 0.0174), (220900, 0.0146, 0.0174),
    (220930, 0.0147, 0.0174), (220960, 0.0147, 0.0174), (220990, 0.0148, 0.0174),
    (221030, 0.0148, 0.0174), (221120, 0.0121, 0.0135), (221170, 0.0121, 0.0133),
    (221220, 0.0121, 0.0135), (221259, 0.0123, 0.0145)]
SD_RED_SPIKES = [
    (214180, 0.0087, 0.0099), (214205, 0.0087, 0.0099), (214225, 0.0087, 0.0098),
    (214270, 0.0087, 0.0099), (214288, 0.0087, 0.0098), (214946, 0.0094, 0.0105),
    (215122, 0.0097, 0.0114), (215216, 0.0099, 0.0141), (215286, 0.0098, 0.0133),
    (215493, 0.0097, 0.0114), (215575, 0.0097, 0.0114), (215610, 0.0097, 0.0112),
    (215669, 0.0097, 0.0112), (215704, 0.0097, 0.0112), (215770, 0.0097, 0.0113),
    (215850, 0.0097, 0.0126), (215870, 0.0097, 0.0126), (216303, 0.0095, 0.0114),
    (216330, 0.0095, 0.0108), (216889, 0.0089, 0.0098), (216920, 0.0089, 0.0099),
    (216948, 0.0089, 0.0098), (217060, 0.0088, 0.0099), (217160, 0.0088, 0.0098),
    (217260, 0.0088, 0.0099), (217360, 0.0089, 0.0098), (217460, 0.0089, 0.0099),
    (217560, 0.0089, 0.0098), (217660, 0.0089, 0.0099), (217760, 0.0090, 0.0098),
    (217860, 0.0090, 0.0099), (217110, 0.0088, 0.0097), (217210, 0.0088, 0.0098),
    (217310, 0.0089, 0.0097), (217410, 0.0089, 0.0098), (217510, 0.0089, 0.0097),
    (217610, 0.0089, 0.0098), (217710, 0.0090, 0.0097), (217810, 0.0090, 0.0098),
    (217910, 0.0090, 0.0098), (217957, 0.0094, 0.0101), (218028, 0.0095, 0.0102),
    (218905, 0.0093, 0.0114), (219865, 0.0093, 0.0131), (219905, 0.0093, 0.0137),
    (220603, 0.0094, 0.0112), (220615, 0.0094, 0.0108), (221259, 0.0092, 0.0116)]

SEP_Y_TICKS = [-0.06, -0.04, -0.02, 0, 0.02, 0.04, 0.06]
DOP_Y_TICKS = [0.8, 1.0, 1.2, 1.4, 1.6, 1.8, 2.0, 2.2, 2.4, 2.6, 2.8, 3.0]
SD_Y_TICKS = [0.008, 0.010, 0.012, 0.014, 0.016, 0.018, 0.020, 0.022, 0.024, 0.026, 0.028,
              0.030, 0.032, 0.034, 0.036, 0.038, 0.040, 0.042, 0.044, 0.046, 0.048]

# ---------------- styling ----------------
FONT = "Liberation Sans"
GRID = "#3a3a3a"
BOX_GREEN = "#3b6a20"
FRAME_GREEN = "#4b7d34"
W = 1015
H_A, H_B, H_C = 172, 325, 413

C_BLUE = "#2b3c9c"
C_GREEN = "#4aa640"
C_RED = "#ea4326"
C_CYAN = "#2aa9a9"


def series_df(t0, dt, vals):
    return pd.DataFrame({"t": [t0 + i * dt for i in range(len(vals))], "v": vals})


def spikes_df(sp):
    return pd.DataFrame(sp, columns=["t", "lo", "hi"])


def x_enc():
    return alt.X("t:Q", scale=alt.Scale(domain=X_DOMAIN, nice=False, zero=False),
                 axis=alt.Axis(values=X_TICKS, format="d", title=None, tickSize=5,
                               labelPadding=1, labelFlush=False, grid=True,
                               gridColor=GRID, gridWidth=1.4, gridOpacity=1,
                               tickColor="#222", tickWidth=1.3))


def make_y(field, domain, ticks, expr, title, tx, ty, weight):
    return alt.Y(field, scale=alt.Scale(domain=domain, nice=False, zero=False),
                 axis=alt.Axis(values=ticks, labelExpr=expr, title=title, titleX=tx, titleY=ty,
                               titleAngle=270, titleAlign="center", titleBaseline="middle",
                               titleFontStyle="italic", titleFontWeight=weight, titleFontSize=8.5,
                               tickSize=3, labelPadding=2, grid=True,
                               gridColor=GRID, gridWidth=1.4, gridOpacity=1,
                               tickColor="#222", tickWidth=1.3))


def line_layer(df, color, ymaker, interp="linear"):
    return alt.Chart(df).mark_line(color=color, strokeWidth=1.1, interpolate=interp, clip=True).encode(
        x=x_enc(), y=ymaker("v:Q"))


def rule_layer(df, color, ymaker):
    return alt.Chart(df).mark_rule(color=color, strokeWidth=1, clip=True).encode(
        x=x_enc(), y=ymaker("lo:Q"), y2="hi:Q")


ONE = pd.DataFrame({"k": [0]})


def box_layers(label, x0, y0):
    rect = alt.Chart(ONE).mark_rect(color=BOX_GREEN).encode(
        x=alt.value(x0), x2=alt.value(x0 + 44), y=alt.value(y0), y2=alt.value(y0 + 35))
    txt = alt.Chart(ONE).mark_text(text=label, color="white", font="Open Sans", fontSize=23,
                                   fontWeight="bold", align="center", baseline="middle").encode(
        x=alt.value(x0 + 21), y=alt.value(y0 + 16))
    return [rect, txt]


# ---------------- panel a ----------------
def ya(field):
    return make_y(field, [-0.0753, 0.0798], SEP_Y_TICKS,
                  "datum.value == 0 ? '-0.00' : format(datum.value, '.2f')",
                  "Separation (m)", -40, 77, "bold")


frame_left = alt.Chart(ONE).mark_rule(color=FRAME_GREEN, strokeWidth=2.5).encode(
    x=alt.value(-88), y=alt.value(-20), y2=alt.value(1010))
frame_top = alt.Chart(ONE).mark_rule(color=FRAME_GREEN, strokeWidth=2.5).encode(
    x=alt.value(-89), x2=alt.value(1016), y=alt.value(-18.75))

panel_a = alt.layer(
    line_layer(series_df(SEP_T0, SEP_DT, SEP_GREEN), C_GREEN, ya),
    line_layer(series_df(SEP_T0, SEP_DT, SEP_RED), C_RED, ya),
    line_layer(series_df(SEP_T0, SEP_DT, SEP_BLUE), C_BLUE, ya),
    frame_left, frame_top,
    *box_layers("а)", -82, -5),
).properties(width=W, height=H_A)


# ---------------- panel b ----------------
def yb(field):
    return make_y(field, [0.635, 3.037], DOP_Y_TICKS, "format(datum.value, '.1f')",
                  "DOP", -39, 127, "bold")


panel_b = alt.layer(
    line_layer(series_df(GRID_T0, GRID_DT, DOP_BLUE), C_BLUE, yb, "step-after"),
    rule_layer(spikes_df(DOP_BLUE_SPIKES), C_BLUE, yb),
    line_layer(series_df(GRID_T0, GRID_DT, DOP_GREEN), C_GREEN, yb, "step-after"),
    rule_layer(spikes_df(DOP_GREEN_SPIKES), C_GREEN, yb),
    line_layer(series_df(GRID_T0, GRID_DT, DOP_RED), C_RED, yb, "step-after"),
    rule_layer(spikes_df(DOP_RED_SPIKES), C_RED, yb),
    *box_layers("б)", -82, 12),
).properties(width=W, height=H_B)


# ---------------- panel c ----------------
def yc(field):
    return make_y(field, [0.0076, 0.049], SD_Y_TICKS, "format(datum.value, '.3f')",
                  "Estimated StdDev (m)", -45, 162, "normal")


week = alt.Chart(pd.DataFrame({"t": [214500], "txt": ["Week 1447"]})).mark_text(
    font=FONT, fontSize=9, color="#333", align="center", baseline="middle").encode(
    x=x_enc(), y=alt.value(H_C + 27), text="txt:N")
x_title = alt.Chart(ONE).mark_text(
    text="GPS Time (TOW, GMT zone)", font=FONT, fontSize=9, fontStyle="italic",
    fontWeight="bold", color="#222", align="center", baseline="middle").encode(
    x=alt.value(W / 2), y=alt.value(H_C + 48))

panel_c = alt.layer(
    line_layer(series_df(GRID_T0, GRID_DT, SD_CYAN), C_CYAN, yc),
    rule_layer(spikes_df(SD_CYAN_SPIKES), C_CYAN, yc),
    line_layer(series_df(GRID_T0, GRID_DT, SD_BLUE), C_BLUE, yc),
    rule_layer(spikes_df(SD_BLUE_SPIKES), C_BLUE, yc),
    line_layer(series_df(GRID_T0, GRID_DT, SD_GREEN), C_GREEN, yc),
    rule_layer(spikes_df(SD_GREEN_SPIKES), C_GREEN, yc),
    line_layer(series_df(GRID_T0, GRID_DT, SD_RED), C_RED, yc),
    rule_layer(spikes_df(SD_RED_SPIKES), C_RED, yc),
    week, x_title,
    *box_layers("в)", -85, 16),
).properties(width=W, height=H_C)

chart = alt.vconcat(panel_a, panel_b, panel_c, spacing=20, bounds="flush").properties(
    padding=0
).configure_view(
    stroke="#111", strokeWidth=1.5
).configure_axis(
    labelFont=FONT, labelFontSize=9, labelColor="#333", titleFont=FONT, titleColor="#222",
    gridColor=GRID, gridWidth=1.4, domain=False, tickColor="#222"
).configure(background="white")

chart.save("out.html", embed_options={"renderer": "svg", "actions": False})
